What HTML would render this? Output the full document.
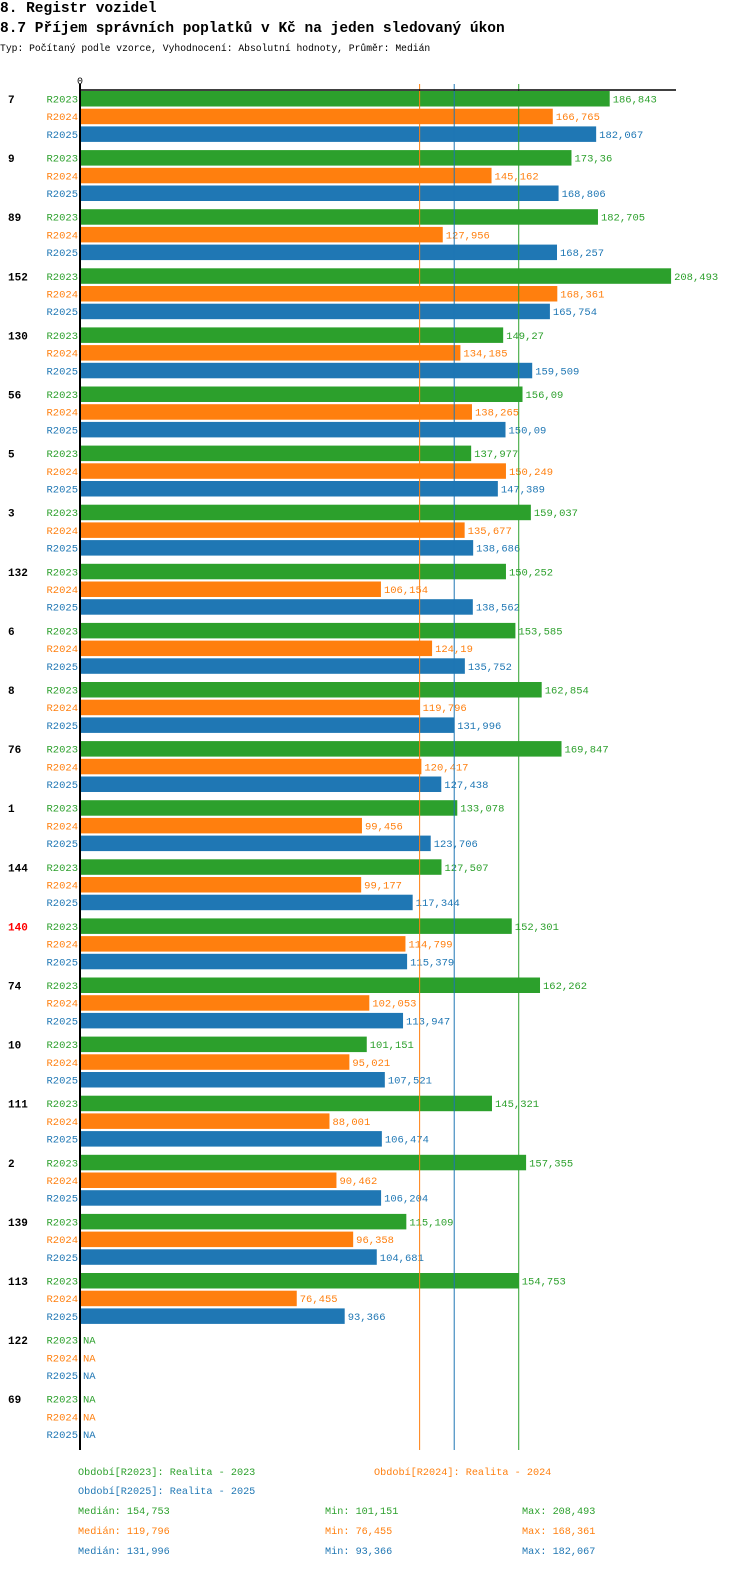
<!DOCTYPE html>
<html><head><meta charset="utf-8">
<style>
body{margin:0;background:#fff;width:750px;height:1592px;overflow:hidden;font-family:"Liberation Mono",monospace;}
.t1{position:absolute;left:0;top:1px;font-size:14.5px;font-weight:bold;line-height:16px;}
.t2{position:absolute;left:0;top:21px;font-size:14.5px;font-weight:bold;line-height:16px;}
.t3{position:absolute;left:0;top:43px;font-size:9.7px;line-height:12px;}
svg{position:absolute;left:0;top:0;}
</style></head><body>
<div class="t1">8. Registr vozidel</div>
<div class="t2">8.7 Příjem správních poplatků v Kč na jeden sledovaný úkon</div>
<div class="t3">Typ: Počítaný podle vzorce, Vyhodnocení: Absolutní hodnoty, Průměr: Medián</div>
<svg id="chart" width="750" height="1592"></svg>
<script>
const categories=["7","9","89","152","130","56","5","3","132","6","8","76","1","144","140","74","10","111","2","139","113","122","69"];
const r2023=[186.843,173.36,182.705,208.493,149.27,156.09,137.977,159.037,150.252,153.585,162.854,169.847,133.078,127.507,152.301,162.262,101.151,145.321,157.355,115.109,154.753,null,null];
const r2024=[166.765,145.162,127.956,168.361,134.185,138.265,150.249,135.677,106.154,124.19,119.796,120.417,99.456,99.177,114.799,102.053,95.021,88.001,90.462,96.358,76.455,null,null];
const r2025=[182.067,168.806,168.257,165.754,159.509,150.09,147.389,138.686,138.562,135.752,131.996,127.438,123.706,117.344,115.379,113.947,107.521,106.474,106.204,104.681,93.366,null,null];
const seriesNames=["R2023","R2024","R2025"];
const medians=[154.753,119.796,131.996];
const mins=[101.151,76.455,93.366];
const maxs=[208.493,168.361,182.067];
const highlighted=["140"];
const colors=["#2ca02c","#ff7f0e","#1f77b4"];
const NS="http://www.w3.org/2000/svg";
const svg=document.getElementById('chart');
const X0=80,SC=2.835;
const x=v=>X0+v*SC;
const gy=g=>91+g*59.1;
function mk(tag,attrs,txt){const e=document.createElementNS(NS,tag);for(const k in attrs)e.setAttribute(k,attrs[k]);if(txt!==undefined)e.textContent=txt;svg.appendChild(e);return e;}
const fmt=v=>String(+v.toFixed(3)).replace('.',',');
const series=[r2023,r2024,r2025];
categories.forEach((c,g)=>{
  const t=mk('text',{x:8,y:gy(g)+12,'font-size':11,'font-weight':'bold',fill:highlighted.includes(c)?'#ff0000':'#000'},c);
  
  
  series.forEach((s,i)=>{
    const y=gy(g)+i*17.7;
    const l=mk('text',{x:78,y:y+11.5,'font-size':10.5,'text-anchor':'end',fill:colors[i]},seriesNames[i]);
    
    
    const v=s[g];
    if(v!==null){
      const r=mk('rect',{x:X0+1,y:y,width:x(v)-X0-1,height:15.5,fill:colors[i]});
      
      
    }
    const vl=mk('text',{x:(v===null?X0:x(v))+3,y:y+11.5,'font-size':10.5,fill:colors[i]},v===null?'NA':fmt(v));
    
    
  });
});
medians.forEach((m,i)=>{
  const l=mk('line',{x1:x(m),x2:x(m),y1:84,y2:1450,stroke:colors[i],'stroke-width':1});
  
  
});
const ax=mk('line',{x1:80,x2:80,y1:84,y2:1450,stroke:'#000','stroke-width':2});


const hx=mk('line',{x1:79,x2:676,y1:90,y2:90,stroke:'#000','stroke-width':1.5});


const z=mk('text',{x:80,y:84,'font-size':10,'text-anchor':'middle'},'0');


const legTxt=[["Období[R2023]: Realita - 2023",78,1475,0],["Období[R2024]: Realita - 2024",374,1475,1],["Období[R2025]: Realita - 2025",78,1494,2]];
legTxt.forEach(([s,lx,ly,ci])=>{
  const e=mk('text',{x:lx,y:ly,'font-size':10.2,fill:colors[ci]},s);
  
  
});
[0,1,2].forEach(i=>{
  const y=1514+i*20;
  const a=mk('text',{x:78,y:y,'font-size':10.2,fill:colors[i]},'Medián: '+fmt(medians[i]));
  
  
  const b=mk('text',{x:325,y:y,'font-size':10.2,fill:colors[i]},'Min: '+fmt(mins[i]));
  
  
  const c=mk('text',{x:522,y:y,'font-size':10.2,fill:colors[i]},'Max: '+fmt(maxs[i]));
  
  
});
</script>
</body></html>
